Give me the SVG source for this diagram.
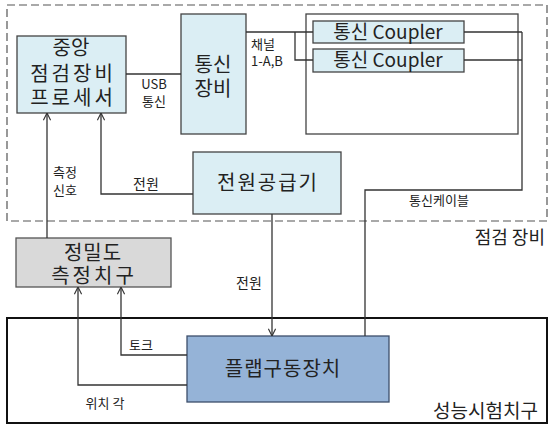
<svg xmlns="http://www.w3.org/2000/svg" width="549" height="424" viewBox="0 0 549 424">
<defs>
<marker id="arr" viewBox="0 0 10 10" refX="10" refY="5" markerWidth="8" markerHeight="8" markerUnits="userSpaceOnUse" orient="auto">
<path d="M1,0.5 L10,5 L1,9.5" fill="none" stroke="#333" stroke-width="1.4"/>
</marker>
<style>
text{font-family:"Noto Sans CJK KR","Noto Sans",sans-serif;fill:#222;}
.lb{fill:#dbeef4;stroke:#444;stroke-width:1.3;}
.big{font-size:20px;text-anchor:middle;}
.sp{letter-spacing:3px;}
.sm{font-size:13px;}
.ln{fill:none;stroke:#333;stroke-width:1.3;}
.ar{marker-end:url(#arr);}
</style>
</defs>
<rect width="549" height="424" fill="#fff"/>
<g id="inspection-area">
<rect x="7" y="5" width="540" height="216" fill="none" stroke="#555" stroke-width="1.2" stroke-dasharray="8,4"/>
<text x="545" y="244" font-size="18" text-anchor="end">점검 장비</text>
</g>
<g id="test-jig-area">
<rect x="7" y="318" width="540" height="105" fill="none" stroke="#111" stroke-width="2"/>
<text x="538" y="418" font-size="19" text-anchor="end">성능시험치구</text>
</g>
<g id="processor">
<rect class="lb" x="17" y="36" width="109" height="77"/>
<text class="big" x="71" y="55">중앙</text>
<text class="big sp" x="73" y="81">점검장비</text>
<text class="big sp" x="73" y="105">프로세서</text>
</g>
<g id="comm-device">
<rect class="lb" x="181" y="14" width="65" height="120"/>
<text class="big" x="213" y="72">통신</text>
<text class="big" x="213" y="96">장비</text>
</g>
<g id="coupler-frame">
<rect x="306" y="14" width="212" height="120" fill="#fff" stroke="#444" stroke-width="1.3"/>
</g>
<g id="coupler1">
<rect class="lb" x="313" y="21" width="151" height="22"/>
<text x="388" y="39" font-size="19" text-anchor="middle">통신 Coupler</text>
</g>
<g id="coupler2">
<rect class="lb" x="313" y="49" width="151" height="23"/>
<text x="388" y="67" font-size="19" text-anchor="middle">통신 Coupler</text>
</g>
<g id="power-supply">
<rect class="lb" x="193" y="152" width="148" height="62"/>
<text class="big" x="268" y="190" letter-spacing="2">전원공급기</text>
</g>
<g id="precision-jig">
<rect x="16" y="238" width="155" height="49" fill="#d9d9d9" stroke="#555" stroke-width="1.3"/>
<text class="big" x="93" y="260" letter-spacing="1">정밀도</text>
<text class="big sp" x="94" y="283">측정치구</text>
</g>
<g id="flap-actuator">
<rect x="187" y="336" width="202" height="66" fill="#95b3d7" stroke="#3d4f6b" stroke-width="1.3"/>
<text class="big" x="283" y="376" font-size="21" letter-spacing="1">플랩구동장치</text>
</g>
<g id="connectors">
<path class="ln" d="M126,74 H181"/>
<path class="ln" d="M246,32 H313 M295,32 V60 H313"/>
<path class="ln" d="M464,32 H522 M464,60 H522 M522,32 V190 H365 V336"/>
<path class="ln ar" d="M47,238 V113"/>
<path class="ln ar" d="M193,194 H101 V113"/>
<path class="ln ar" d="M272,214 V336"/>
<path class="ln ar" d="M187,355 H121 V287"/>
<path class="ln ar" d="M187,385 H78 V287"/>
</g>
<g id="labels">
<text class="sm" x="154" y="89" text-anchor="middle">USB</text>
<text class="sm" x="154" y="106" text-anchor="middle">통신</text>
<text x="251" y="49" font-size="13">채널</text>
<text x="251" y="66" font-size="13">1-A,B</text>
<text class="sm" x="65" y="177" text-anchor="middle">측정</text>
<text class="sm" x="65" y="195" text-anchor="middle">신호</text>
<text x="146" y="189" font-size="14" text-anchor="middle">전원</text>
<text class="sm" x="439" y="205" text-anchor="middle">통신케이블</text>
<text x="249" y="288" font-size="14" text-anchor="middle">전원</text>
<text class="sm" x="141" y="350" text-anchor="middle">토크</text>
<text class="sm" x="105" y="408" text-anchor="middle">위치 각</text>
</g>
</svg>
